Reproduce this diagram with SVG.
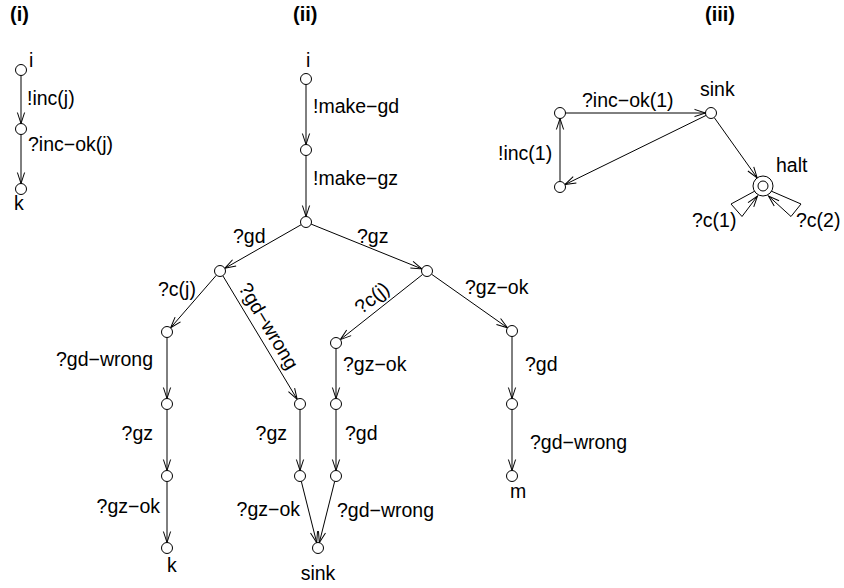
<svg xmlns="http://www.w3.org/2000/svg" width="844" height="588" viewBox="0 0 844 588">
<style>
text{font-family:"Liberation Sans",Arial,sans-serif;font-size:19.5px;fill:#000}
.t{font-weight:bold;font-size:20px}
.n{fill:#fff;stroke:#000;stroke-width:1}
.e{fill:none;stroke:#000;stroke-width:1;marker-end:url(#a)}
</style>
<defs>
<marker id="a" markerUnits="userSpaceOnUse" markerWidth="12" markerHeight="9" viewBox="0 -4.5 12 9" refX="11" refY="0" orient="auto" overflow="visible">
<path d="M0,-3.6 L11,0 L0,3.6" fill="none" stroke="#000" stroke-width="1"/>
</marker>
</defs>
<rect width="844" height="588" fill="#fff"/>
<text class="t" x="10" y="21">(i)</text>
<text class="t" x="293" y="21">(ii)</text>
<text class="t" x="705" y="21">(iii)</text>
<g id="connectors">
<line class="e" x1="21" y1="75.5" x2="21" y2="123.5"/>
<line class="e" x1="21" y1="134.5" x2="21" y2="183.5"/>
<line class="e" x1="306" y1="84.5" x2="306" y2="144.5"/>
<line class="e" x1="306" y1="155.5" x2="306" y2="216.5"/>
<line class="e" x1="301.2" y1="224.7" x2="224.8" y2="268.3"/>
<line class="e" x1="311.1" y1="224.1" x2="421.9" y2="268.9"/>
<line class="e" x1="216.4" y1="275.2" x2="170.6" y2="327.8"/>
<line class="e" x1="222.8" y1="275.7" x2="297.2" y2="399.3"/>
<line class="e" x1="422.7" y1="274.4" x2="340.3" y2="339.6"/>
<line class="e" x1="431.5" y1="274.2" x2="507.5" y2="327.8"/>
<line class="e" x1="167" y1="337.5" x2="167" y2="398.5"/>
<line class="e" x1="167" y1="409.5" x2="167" y2="470.5"/>
<line class="e" x1="167" y1="481.5" x2="167" y2="542.5"/>
<line class="e" x1="300" y1="409.5" x2="300" y2="470.5"/>
<line class="e" x1="301.3" y1="481.3" x2="316.7" y2="542.7"/>
<line class="e" x1="336" y1="348.5" x2="336" y2="398.5"/>
<line class="e" x1="336" y1="409.5" x2="336" y2="470.5"/>
<line class="e" x1="334.7" y1="481.3" x2="319.3" y2="542.7"/>
<line class="e" x1="512" y1="336.5" x2="512" y2="398.5"/>
<line class="e" x1="512" y1="409.5" x2="512" y2="470.5"/>
<line class="e" x1="560" y1="181.5" x2="560" y2="118.5"/>
<line class="e" x1="565.5" y1="113" x2="705.5" y2="113"/>
<line class="e" x1="706.1" y1="115.4" x2="564.9" y2="184.6"/>
<line class="e" x1="714.2" y1="117.5" x2="757.2" y2="177.9"/>
<polyline class="e" points="755,191 731,204 742,216.5 757.5,196"/>
<polyline class="e" points="771,191 801,204 791,216.5 768.5,196"/>
</g>
<g id="labels">
<text x="27" y="105">!inc(j)</text>
<text x="28" y="151">?inc−ok(j)</text>
<text x="313" y="113">!make−gd</text>
<text x="313" y="185">!make−gz</text>
<text x="233" y="243">?gd</text>
<text x="357" y="243">?gz</text>
<text x="158" y="296">?c(j)</text>
<text transform="translate(268.5,326) rotate(59)" x="0" y="6.5" text-anchor="middle">?gd−wrong</text>
<text transform="translate(372,298) rotate(-38.4)" x="0" y="6.5" text-anchor="middle">?c(j)</text>
<text x="465" y="294">?gz−ok</text>
<text x="153" y="366" text-anchor="end">?gd−wrong</text>
<text x="343" y="371">?gz−ok</text>
<text x="525" y="371">?gd</text>
<text x="153" y="440" text-anchor="end">?gz</text>
<text x="287" y="440" text-anchor="end">?gz</text>
<text x="345" y="440">?gd</text>
<text x="530" y="449">?gd−wrong</text>
<text x="160" y="513" text-anchor="end">?gz−ok</text>
<text x="300" y="516" text-anchor="end">?gz−ok</text>
<text x="337" y="517">?gd−wrong</text>
<text x="582" y="107">?inc−ok(1)</text>
<text x="498" y="160">!inc(1)</text>
<text x="692" y="227">?c(1)</text>
<text x="796" y="227">?c(2)</text>
</g>
<g id="i-i"><circle class="n" cx="21" cy="70" r="5.5"/><text x="29" y="67">i</text></g>
<g id="i-mid"><circle class="n" cx="21" cy="129" r="5.5"/></g>
<g id="i-k"><circle class="n" cx="21" cy="189" r="5.5"/><text x="14" y="210">k</text></g>
<g id="ii-i"><circle class="n" cx="306" cy="79" r="5.5"/><text x="306" y="67">i</text></g>
<g id="ii-n2"><circle class="n" cx="306" cy="150" r="5.5"/></g>
<g id="ii-n3"><circle class="n" cx="306" cy="222" r="5.5"/></g>
<g id="ii-gd"><circle class="n" cx="220" cy="271" r="5.5"/></g>
<g id="ii-gz"><circle class="n" cx="427" cy="271" r="5.5"/></g>
<g id="ii-L1"><circle class="n" cx="167" cy="332" r="5.5"/></g>
<g id="ii-L2"><circle class="n" cx="167" cy="404" r="5.5"/></g>
<g id="ii-L3"><circle class="n" cx="167" cy="476" r="5.5"/></g>
<g id="ii-k"><circle class="n" cx="167" cy="548" r="5.5"/><text x="167" y="572">k</text></g>
<g id="ii-M1"><circle class="n" cx="300" cy="404" r="5.5"/></g>
<g id="ii-M2"><circle class="n" cx="300" cy="476" r="5.5"/></g>
<g id="ii-R1"><circle class="n" cx="336" cy="343" r="5.5"/></g>
<g id="ii-R2"><circle class="n" cx="336" cy="404" r="5.5"/></g>
<g id="ii-R3"><circle class="n" cx="336" cy="476" r="5.5"/></g>
<g id="ii-sink"><circle class="n" cx="318" cy="548" r="5.5"/><text x="318" y="580" text-anchor="middle">sink</text></g>
<g id="ii-RR1"><circle class="n" cx="512" cy="331" r="5.5"/></g>
<g id="ii-RR2"><circle class="n" cx="512" cy="404" r="5.5"/></g>
<g id="ii-m"><circle class="n" cx="512" cy="476" r="5.5"/><text x="510" y="498">m</text></g>
<g id="iii-TL"><circle class="n" cx="560" cy="113" r="5.5"/></g>
<g id="iii-BL"><circle class="n" cx="560" cy="187" r="5.5"/></g>
<g id="iii-sink"><circle class="n" cx="711" cy="113" r="5.5"/><text x="700" y="96">sink</text></g>
<g id="iii-halt"><circle class="n" cx="763" cy="186" r="10"/><circle class="n" cx="763" cy="186" r="5"/><text x="776" y="172">halt</text></g>
</svg>
